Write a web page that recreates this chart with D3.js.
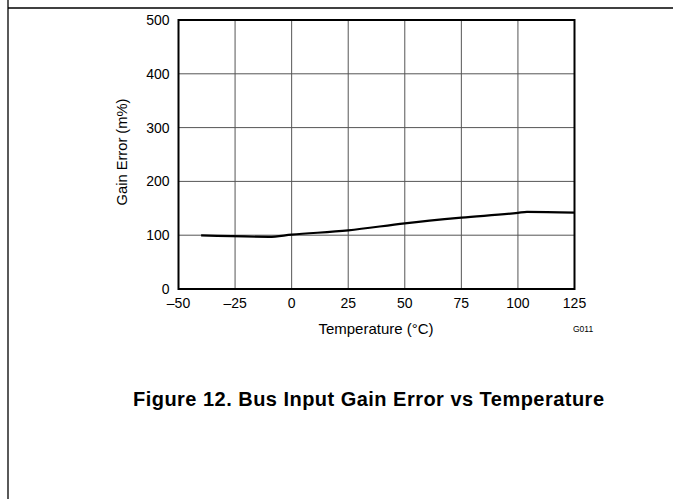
<!DOCTYPE html>
<html><head><meta charset="utf-8">
<script src="https://cdn.jsdelivr.net/npm/d3@7"></script>
<style>body{margin:0;background:#fff}svg{display:block;font-family:"Liberation Sans",Arial,sans-serif}</style>
</head><body><svg id="c" width="673" height="499"></svg>
<script>
const temperature = [-40, -10, 0, 25, 50, 75, 100, 104, 125];
const gainError = [99.5, 97, 101, 109, 122, 132.5, 141.5, 143.5, 142];
const xTicks = [-50, -25, 0, 25, 50, 75, 100, 125];
const yTicks = [0, 100, 200, 300, 400, 500];

const svg = d3.select("#c");
const L = 178.5, R = 574.5, T = 20, B = 289;
const x = d3.scaleLinear().domain([-50, 125]).range([L, R]);
const y = d3.scaleLinear().domain([0, 500]).range([B, T]);

// page frame
svg.append("line").attr("x1", 8).attr("x2", 8).attr("y1", 0).attr("y2", 499).attr("stroke", "#000").attr("stroke-width", 1.3);
svg.append("line").attr("x1", 8).attr("x2", 673).attr("y1", 8).attr("y2", 8).attr("stroke", "#000").attr("stroke-width", 1.3);

// grid
svg.append("g").selectAll("line").data(xTicks.slice(1, -1)).join("line")
  .attr("x1", d => x(d)).attr("x2", d => x(d)).attr("y1", T).attr("y2", B)
  .attr("stroke", "#555").attr("stroke-width", 1);
svg.append("g").selectAll("line").data(yTicks.slice(1, -1)).join("line")
  .attr("x1", L).attr("x2", R).attr("y1", d => y(d)).attr("y2", d => y(d))
  .attr("stroke", "#555").attr("stroke-width", 1);

// frame
svg.append("rect").attr("x", L).attr("y", T).attr("width", R - L).attr("height", B - T)
  .attr("fill", "none").attr("stroke", "#000").attr("stroke-width", 2);

// tick labels
svg.append("g").selectAll("text").data(xTicks).join("text")
  .attr("x", d => x(d)).attr("y", 308).attr("text-anchor", "middle")
  .attr("font-size", 14).text(d => d < 0 ? "\u2013" + Math.abs(d) : d);
svg.append("g").selectAll("text").data(yTicks).join("text")
  .attr("x", 169.5).attr("y", d => y(d) + 5).attr("text-anchor", "end")
  .attr("font-size", 14).text(d => d);

// axis titles
svg.append("text").attr("x", 376).attr("y", 334).attr("text-anchor", "middle")
  .attr("font-size", 15).text("Temperature (°C)");
svg.append("text").attr("transform", "translate(127,152) rotate(-90)").attr("text-anchor", "middle")
  .attr("font-size", 14.7).text("Gain Error (m%)");
svg.append("text").attr("x", 573).attr("y", 332).attr("font-size", 8.5).text("G011");

// line
const line = d3.line().x((d, i) => x(temperature[i])).y(d => y(d)).curve(d3.curveMonotoneX);
svg.append("path").datum(gainError).attr("d", line).attr("fill", "none")
  .attr("stroke", "#000").attr("stroke-width", 2.2);

// caption
svg.append("text").attr("x", 133).attr("y", 406).attr("font-size", 20).attr("font-weight", "bold")
  .attr("textLength", 471).attr("lengthAdjust", "spacing")
  .text("Figure 12. Bus Input Gain Error vs Temperature");
</script></body></html>
